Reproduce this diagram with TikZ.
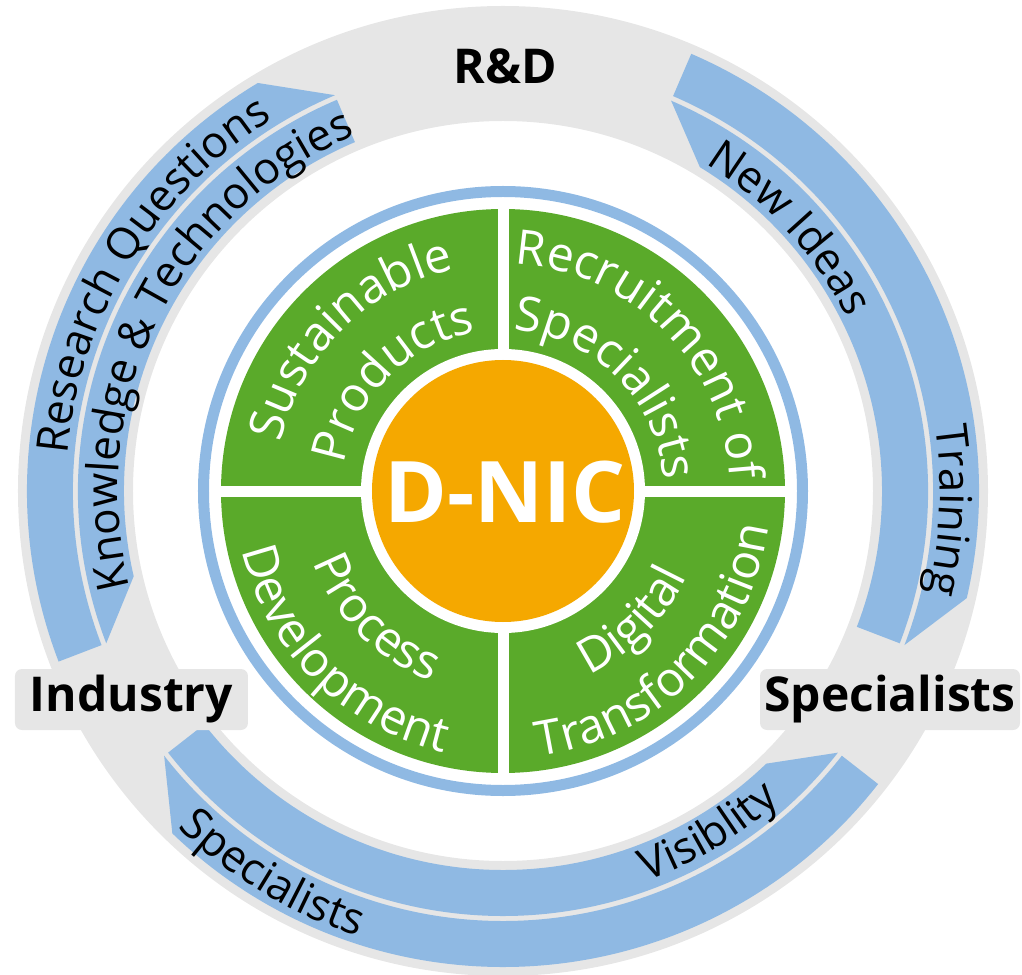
\documentclass[tikz,border=0pt]{standalone}
\usepackage{fontspec}
\setmainfont{Open Sans}
\usetikzlibrary{decorations.text}

\definecolor{ringgray}{RGB}{230,230,230}
\definecolor{flowblue}{RGB}{143,185,227}
\definecolor{fieldgreen}{RGB}{90,170,42}
\definecolor{coreorange}{RGB}{245,168,0}

\newcommand{\tagfont}{\fontsize{48}{58}\selectfont\bfseries}
\newcommand{\bandfont}{\fontsize{44}{52}\selectfont}
\newcommand{\fieldfont}{\fontsize{48}{58}\selectfont}
\newcommand{\corefont}{\fontsize{85}{102}\selectfont\bfseries}

% band with a half head: tail angle, end of short edge, tip angle, short edge radius, tip edge radius
\newcommand{\flowband}[5]{%
  \fill[flowblue] (#1:#4) arc[start angle=#1, end angle=#2, radius=#4]
    -- (#3:#5) arc[start angle=#3, end angle=#1, radius=#5] -- cycle;}

% text on an arc: centre angle, baseline radius, colour, font, text
\newcommand{\cwtext}[5]{%
  \path[decorate, decoration={text along path, text align=center, text color=#3, text={|#4|#5}}]
    ({#1+50}:#2) arc[start angle={#1+50}, end angle={#1-50}, radius=#2];}
\newcommand{\ccwtext}[5]{%
  \path[decorate, decoration={text along path, text align=center, text color=#3, text={|#4|#5}}]
    ({#1-50}:#2) arc[start angle={#1-50}, end angle={#1+50}, radius=#2];}

\begin{document}
\begin{tikzpicture}[x=1pt, y=1pt,
    tagbox/.style={fill=ringgray, rounded corners=7pt, minimum width=#1, minimum height=61pt, inner sep=0pt, font=\tagfont},
    divider/.style={white, line width=11pt}
]
\useasboundingbox (-503,-483) rectangle (519,491);

% Outer ring
\fill[ringgray, even odd rule] (0,0) circle[radius=485] circle[radius=370];

% Flows: Industry <-> R&D
\flowband{201}{121}{113}{476}{430}
\flowband{113}{193}{201}{379}{425}
% Flows: R&D <-> Specialists
\flowband{66.7}{-13}{-21}{476}{430}
\flowband{-21}{58.7}{66.7}{379}{425}
% Flows: Specialists <-> Industry
\flowband{322}{226}{218}{476}{430}
\flowband{218}{314}{322}{379}{425}

% Flow labels
\cwtext{148.5}{437}{black}{\bandfont}{Research Questions}
\cwtext{153.5}{385}{black}{\bandfont}{Knowledge {\&} Technologies}
\cwtext{42.5}{385}{black}{\bandfont}{New Ideas}
\cwtext{-2.5}{437}{black}{\bandfont}{Training}
\ccwtext{239}{468}{black}{\bandfont}{Specialists}
\ccwtext{301}{416}{black}{\bandfont}{Visiblity}

% Partners
\node[font=\tagfont, anchor=base] (rnd) at (2,407) {R\&D};
\node[tagbox=233pt] (industry) at (-371.5,-208.5) {Industry};
\node[tagbox=260pt] (specialists) at (387,-208.5) {Specialists};

% Fields of action
\draw[flowblue, line width=11pt] (0,0) circle[radius=299.5];
\fill[fieldgreen] (0,0) circle[radius=282];
\draw[divider] (-288,0) -- (288,0);
\draw[divider] (0,-288) -- (0,288);
\fill[white] (0,0) circle[radius=142];
\fill[coreorange] (0,0) circle[radius=131];
\node[font=\corefont, text=white, anchor=base] (core) at (2,-31) {D-NIC};

\cwtext{135}{227}{white}{\fieldfont}{Sustainable}
\cwtext{135}{161}{white}{\fieldfont}{Products}
\cwtext{45}{227}{white}{\fieldfont}{Recruitment of}
\cwtext{45}{161}{white}{\fieldfont}{Specialists}
\ccwtext{225}{203}{white}{\fieldfont}{Process}
\ccwtext{225}{268}{white}{\fieldfont}{Development}
\ccwtext{315}{203}{white}{\fieldfont}{Digital}
\ccwtext{315}{268}{white}{\fieldfont}{Transformation}

\end{tikzpicture}
\end{document}
